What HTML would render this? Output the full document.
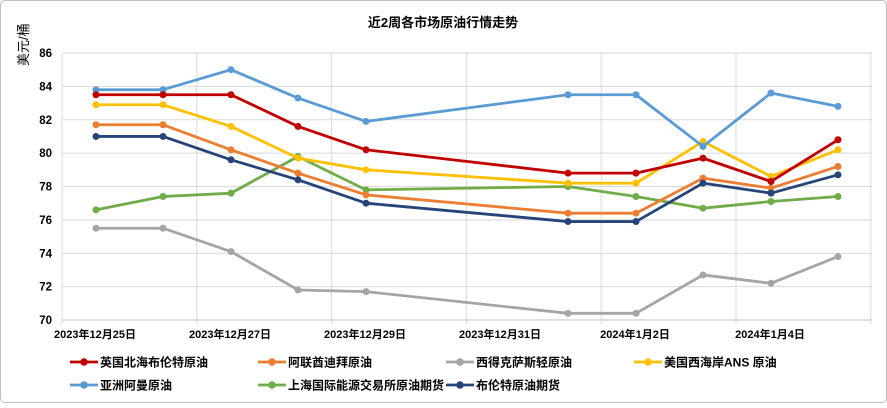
<!DOCTYPE html>
<html><head><meta charset="utf-8"><style>
body{margin:0;background:#fff}
svg text{font-family:"Liberation Sans","Noto Sans CJK SC",sans-serif}
</style></head><body>
<svg id="s" width="887" height="403" xmlns="http://www.w3.org/2000/svg">
<rect x="0.5" y="0.5" width="886" height="402" rx="4" fill="#fff" stroke="#bfbfbf"/>
<text x="443" y="27" text-anchor="middle" font-size="13" font-weight="bold" fill="#000">近2周各市场原油行情走势</text>
<text transform="translate(28,66) rotate(-90)" font-size="13" fill="#000">美元/桶</text>
<g id="grid"></g>
<g id="series"></g>
<g id="legend" font-size="12" font-weight="bold" fill="#000"></g>
</svg>
<script>
const s=document.getElementById('s'),NS="http://www.w3.org/2000/svg";
function el(t,a,p){const e=document.createElementNS(NS,t);for(const k in a)e.setAttribute(k,a[k]);(p||s).appendChild(e);return e;}
const g=document.getElementById('grid'),L=62,R=872;
const Y=v=>53+(86-v)*16.6875;
for(let v=70;v<=86;v+=2){
 el('line',{x1:L,x2:R,y1:Y(v),y2:Y(v),stroke:v==70?'#bfbfbf':'#d9d9d9','stroke-width':1},g);
 const t=el('text',{x:52,y:Y(v)+4,'text-anchor':'end','font-size':11.5,'font-weight':'bold','font-family':'Liberation Serif,serif'},g);t.textContent=v;
}
for(let i=0;i<=6;i++){const x=62+i*134.8;el('line',{x1:x,x2:x,y1:53,y2:324,stroke:'#d9d9d9'},g);}
const labs=[[95,"2023年12月25日"],[230,"2023年12月27日"],[365,"2023年12月29日"],[500,"2023年12月31日"],[635,"2024年1月2日"],[770,"2024年1月4日"]];
labs.forEach(([x,l])=>{const t=el('text',{x:x,y:338,'text-anchor':'middle','font-size':11,'font-weight':'bold','font-family':'Liberation Serif,Noto Serif CJK SC,serif'},g);t.textContent=l;});
const X=[96,163,231,298,366,568,636,703,771,838];
const S=[
["英国北海布伦特原油","#c00000",[83.5,83.5,83.5,81.6,80.2,78.8,78.8,79.7,78.3,80.8]],
["阿联酋迪拜原油","#ed7d31",[81.7,81.7,80.2,78.8,77.5,76.4,76.4,78.5,77.9,79.2]],
["西得克萨斯轻原油","#a5a5a5",[75.5,75.5,74.1,71.8,71.7,70.4,70.4,72.7,72.2,73.8]],
["美国西海岸ANS 原油","#ffc000",[82.9,82.9,81.6,79.7,79.0,78.2,78.2,80.7,78.6,80.2]],
["亚洲阿曼原油","#5b9bd5",[83.8,83.8,85.0,83.3,81.9,83.5,83.5,80.4,83.6,82.8]],
["上海国际能源交易所原油期货","#70ad47",[76.6,77.4,77.6,79.8,77.8,78.0,77.4,76.7,77.1,77.4]],
["布伦特原油期货","#264478",[81.0,81.0,79.6,78.4,77.0,75.9,75.9,78.2,77.6,78.7]]];
const sg=document.getElementById('series'),lg=document.getElementById('legend');
const order=[2,5,1,3,4,6,0];
order.forEach(i=>{const [n,c,d]=S[i];
 el('polyline',{points:d.map((v,j)=>X[j]+','+Y(v)).join(' '),fill:'none',stroke:c,'stroke-width':2.8,'stroke-linejoin':'round'},sg);
 d.forEach((v,j)=>el('circle',{cx:X[j],cy:Y(v),r:3.5,fill:c},sg));});
const LP=[[70,362],[258,362],[446,362],[634,362],[70,385],[258,385],[446,385]];
S.forEach(([n,c],i)=>{const [x,y]=LP[i];
 el('line',{x1:x,x2:x+28,y1:y,y2:y,stroke:c,'stroke-width':2.8},lg);
 el('circle',{cx:x+14,cy:y,r:3.8,fill:c},lg);
 const t=el('text',{x:x+30,y:y+4.5},lg);t.textContent=n;});
</script>
</body></html>
